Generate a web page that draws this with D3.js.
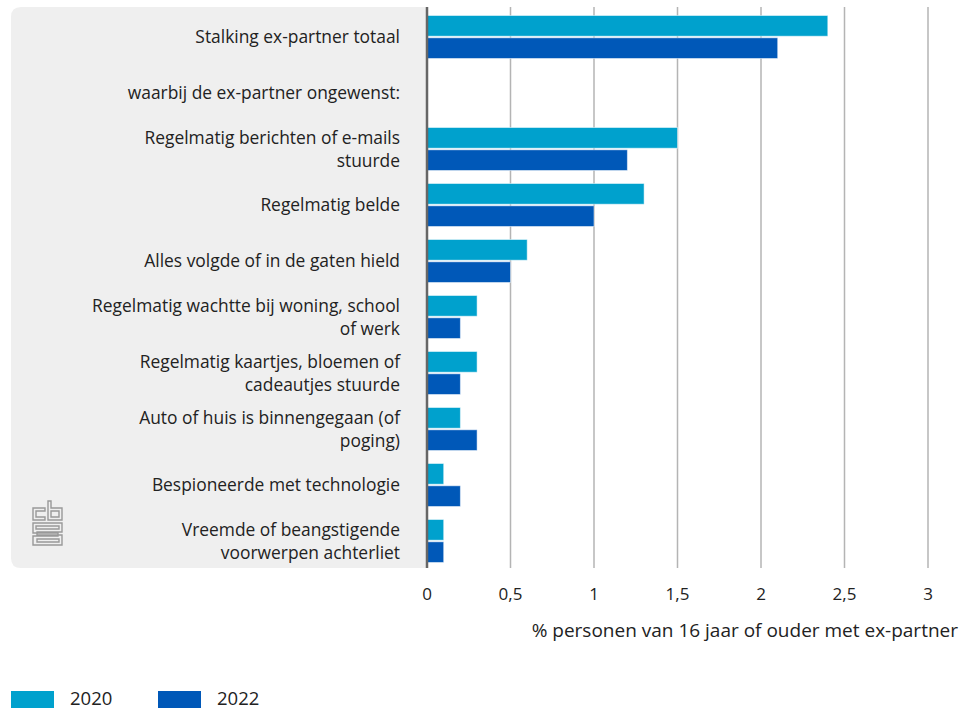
<!DOCTYPE html>
<html><head><meta charset="utf-8">
<script src="https://cdn.jsdelivr.net/npm/d3@7"></script>
<style>body{margin:0;background:#fff;} text{font-family:"Open Sans", sans-serif;}</style>
</head><body>
<svg id="chart" width="968" height="711"></svg>
<script>
const categories = [
  "Stalking ex-partner totaal",
  "waarbij de ex-partner ongewenst:",
  "Regelmatig berichten of e-mails\nstuurde",
  "Regelmatig belde",
  "Alles volgde of in de gaten hield",
  "Regelmatig wachtte bij woning, school\nof werk",
  "Regelmatig kaartjes, bloemen of\ncadeautjes stuurde",
  "Auto of huis is binnengegaan (of\npoging)",
  "Bespioneerde met technologie",
  "Vreemde of beangstigende\nvoorwerpen achterliet"
];
const series = ["2020", "2022"];
const values2020 = [2.4, null, 1.5, 1.3, 0.6, 0.3, 0.3, 0.2, 0.1, 0.1];
const values2022 = [2.1, null, 1.2, 1.0, 0.5, 0.2, 0.2, 0.3, 0.2, 0.1];
const tickValues = [0, 0.5, 1, 1.5, 2, 2.5, 3];
const axisTitle = "% personen van 16 jaar of ouder met ex-partner";
const colors = {"2020": "#00a1cd", "2022": "#0058b8"};

const svg = d3.select("#chart");
const x = d3.scaleLinear().domain([0, 3]).range([427, 928]);
const y = d3.scaleBand().domain(categories).range([9, 569]).paddingInner(0).paddingOuter(0);
const sub = d3.scaleBand().domain(series).range([0, 43]).paddingInner(0.07);

// panel
svg.append("path")
  .attr("d", () => {
    const x0 = 11, y0 = 7, x1 = 427, y1 = 568, r = 10;
    return `M${x0+r},${y0} H${x1} V${y1} H${x0+r} Q${x0},${y1} ${x0},${y1-r} V${y0+r} Q${x0},${y0} ${x0+r},${y0} Z`;
  })
  .attr("fill", "#efefef");

// gridlines
svg.append("g").selectAll("line").data(tickValues.filter(d => d > 0)).join("line")
  .attr("x1", d => x(d)).attr("x2", d => x(d))
  .attr("y1", 7).attr("y2", 568)
  .attr("stroke", "#b4b4b4").attr("stroke-width", 1.5);

// bars
const data = [];
categories.forEach((c, i) => {
  if (values2020[i] != null) data.push({c, s: "2020", v: values2020[i]});
  if (values2022[i] != null) data.push({c, s: "2022", v: values2022[i]});
});
const off = (y.bandwidth() - 43) / 2;
svg.append("g").selectAll("rect").data(data).join("rect")
  .attr("x", x(0))
  .attr("y", d => y(d.c) + off + sub(d.s))
  .attr("width", d => x(d.v) - x(0))
  .attr("height", sub.bandwidth())
  .attr("fill", d => colors[d.s])
  .attr("stroke", "rgba(255,255,255,0.5)").attr("stroke-width", 1);

// axis line
svg.append("line").attr("x1", x(0)).attr("x2", x(0)).attr("y1", 7).attr("y2", 568)
  .attr("stroke", "#666").attr("stroke-width", 2.5);

// category labels
const lg = svg.append("g");
categories.forEach(c => {
  const lines = c.split("\n");
  const cy = y(c) + y.bandwidth() / 2;
  const lh = 23;
  const t = lg.append("text").attr("text-anchor", "end").attr("fill", "#222").attr("font-size", 17.4);
  lines.forEach((l, k) => {
    t.append("tspan").attr("x", 400).attr("y", cy + (k - (lines.length - 1) / 2) * lh).attr("dy", "0.35em").text(l);
  });
});

// tick labels
svg.append("g").selectAll("text").data(tickValues).join("text")
  .attr("x", d => x(d)).attr("y", 594).attr("dy", "0.35em")
  .attr("text-anchor", "middle").attr("font-size", 17).attr("fill", "#222")
  .text(d => d3.format(",")(d).replace(".", ","));

svg.append("text").attr("x", 958).attr("y", 630).attr("dy", "0.35em")
  .attr("text-anchor", "end").attr("font-size", 19).attr("fill", "#222").text(axisTitle);

// legend
const leg = svg.append("g");
series.forEach((s, i) => {
  const lx = 11 + i * 147;
  leg.append("rect").attr("x", lx).attr("y", 691).attr("width", 43).attr("height", 17).attr("fill", colors[s]);
  leg.append("text").attr("x", lx + 59).attr("y", 699).attr("dy", "0.35em").attr("font-size", 18.5).attr("fill", "#222").text(s);
});

// cbs logo
const logo = svg.append("g").attr("fill", "none").attr("stroke", "#999").attr("stroke-width", 1.4);
logo.append("path").attr("d", "M33,508 H45 V511 H36 V517 H45 V520 H33 Z");
logo.append("path").attr("d", "M48,501 H51 V508 H62 V520 H48 Z M51,511 H59 V517 H51 Z");
logo.append("path").attr("d", "M33,523 H62 V532 H37 V535 H62 V545 H33 V536 H58 V533 H33 Z M36,526 H59 V529 H36 Z M37,539 H59 V542 H37 Z");
</script>
</body></html>
